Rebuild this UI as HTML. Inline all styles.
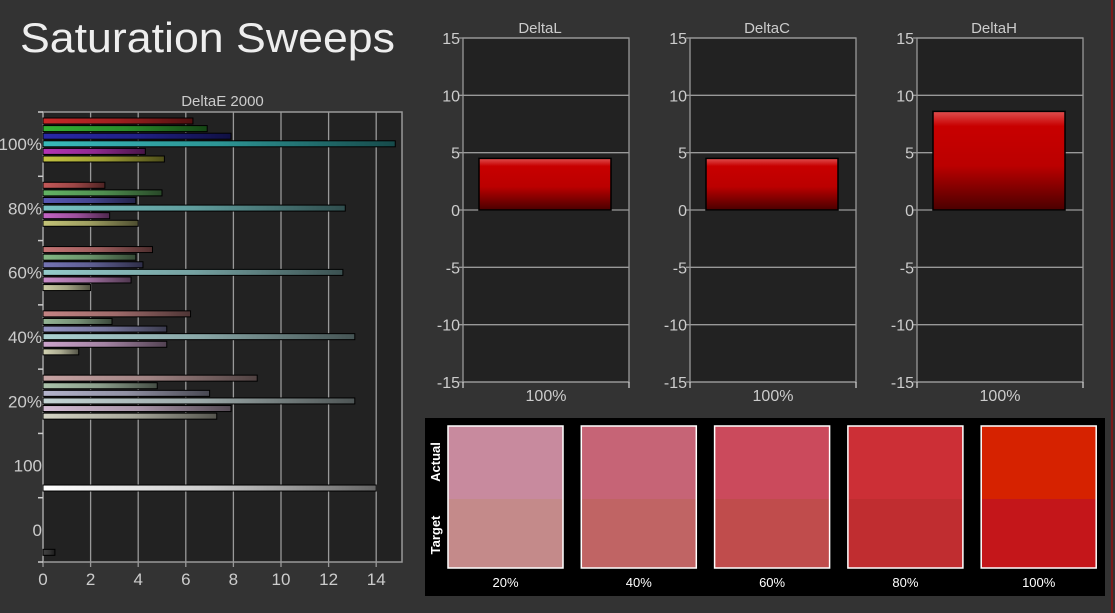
<!DOCTYPE html>
<html><head><meta charset="utf-8">
<style>
html,body{margin:0;padding:0;background:#333;}
svg{display:block;font-family:"Liberation Sans",sans-serif;}
</style></head>
<body>
<svg id="root" width="1115" height="613" viewBox="0 0 1115 613" xmlns="http://www.w3.org/2000/svg">
<defs>
<linearGradient id="redbar" x1="0" y1="0" x2="0" y2="1">
<stop offset="0" stop-color="#e05050"/><stop offset="0.15" stop-color="#c80000"/><stop offset="0.55" stop-color="#bb0000"/><stop offset="1" stop-color="#4a0000"/>
</linearGradient>
</defs>
<rect x="0" y="0" width="1115" height="613" fill="#333"/>
<rect x="1111" y="0" width="2" height="613" fill="#7a1a1a"/>
<text x="20" y="52" font-size="42" fill="#eee" textLength="375" lengthAdjust="spacingAndGlyphs">Saturation Sweeps</text>
<g id="left"></g>
<g id="panels"></g>
<g id="swatches"></g>
</svg>
<script>
const NS="http://www.w3.org/2000/svg";
// ---- DeltaE 2000 data ----
const groupLabels=["100%","80%","60%","40%","20%","100","0"];
const xTicks=[0,2,4,6,8,10,12,14];
const de100=[6.3,6.9,7.9,14.8,4.3,5.1];
const de80=[2.6,5.0,3.9,12.7,2.8,4.0];
const de60=[4.6,3.9,4.2,12.6,3.7,2.0];
const de40=[6.2,2.9,5.2,13.1,5.2,1.5];
const de20=[9.0,4.8,7.0,13.1,7.9,7.3];
const deWhite=[14.0];
const deBlack=[0.5];
// ---- Delta panels data ----
const panelTitles=["DeltaL","DeltaC","DeltaH"];
const panelValues=[4.5,4.5,8.6];
const panelYTicks=[15,10,5,0,-5,-10,-15];
const panelCategory="100%";
// ---- swatch data ----
const swatchLabels=["20%","40%","60%","80%","100%"];
const swatchActual=["#c88a9e","#c66476","#cb4a5c","#cc2f36","#d62200"];
const swatchTarget=["#c48a8a","#c06464","#c04c4c","#c02d30","#c4161a"];

function mk(tag,attrs,parent,txt){const e=document.createElementNS(NS,tag);for(const k in attrs)e.setAttribute(k,attrs[k]);if(txt!==undefined)e.textContent=txt;parent.appendChild(e);return e;}

// ---- left chart ----
const L=document.getElementById('left');
const defs=document.querySelector('defs');
const px0=43,pxR=402,pyT=112,pyB=562,unit=23.8;
const xs=v=>px0+v*unit;
const gH=(pyB-pyT)/groupLabels.length;
const r=mk('rect',{x:px0,y:pyT,width:pxR-px0,height:pyB-pyT,fill:'#222',stroke:'#999','stroke-width':1.5},L);

const t=mk('text',{x:(px0+pxR)/2,y:106,'font-size':15,fill:'#ccc','text-anchor':'middle'},L,'DeltaE 2000');

xTicks.forEach(v=>{
  const g=mk('line',{x1:xs(v),x2:xs(v),y1:pyT,y2:pyB+5,stroke:'#999','stroke-width':1.3},L);
  
  const tl=mk('text',{x:xs(v),y:585,'font-size':17,fill:'#ccc','text-anchor':'middle'},L,String(v));
  
});
for(let i=0;i<=groupLabels.length;i++){
  const y=pyT+i*gH;
  const tk=mk('line',{x1:px0-5,x2:px0,y1:y,y2:y,stroke:'#ccc','stroke-width':1.5},L);
  
}
groupLabels.forEach((lab,i)=>{
  const tl=mk('text',{x:px0-1,y:pyT+i*gH+gH/2+6,'font-size':17,fill:'#ccc','text-anchor':'end'},L,lab);
  
});
const groupColors=[
 ["#c82828","#34b034","#2828a8","#38baba","#b434b4","#c4c440"],
 ["#c45858","#64b464","#5858b4","#78c4c4","#c464c4","#c4c478"],
 ["#c47474","#84b884","#7474b4","#94caca","#c88cc8","#ccccA4"],
 ["#c48484","#94b494","#9494c4","#acd2d2","#cca4cc","#d4d4b4"],
 ["#c8a4a4","#acc4ac","#b4b4cc","#c4d4d4","#d4bcd4","#d4d4c4"],
 ["#ffffff"],["#444444"]];
const series=[de100,de80,de60,de40,de20,deWhite,deBlack];
const names=["red","green","blue","cyan","magenta","yellow"];
let gid=0;
function dark(hex,f){const n=parseInt(hex.slice(1),16);const c=[(n>>16)&255,(n>>8)&255,n&255].map(v=>Math.round(v*f));return 'rgb('+c.join(',')+')';}
series.forEach((vals,gi)=>{
  vals.forEach((v,k)=>{
    const slot=(gi>=5)?6:k;
    const col=groupColors[gi][k];
    const id='g'+(gid++);
    const lg=mk('linearGradient',{id:id,x1:0,y1:0,x2:1,y2:0},defs);
    mk('stop',{offset:0,'stop-color':col},lg);
    mk('stop',{offset:0.5,'stop-color':dark(col,0.8)},lg);
    mk('stop',{offset:1,'stop-color':dark(col,0.4)},lg);
    const y=pyT+gi*gH+8+slot*7.6-2;
    const b=mk('rect',{x:xs(0),y:y,width:Math.max(0,xs(v)-xs(0)),height:6,fill:'url(#'+id+')',stroke:'#000','stroke-width':1},L);
    
    
  });
});

// ---- delta panels ----
const P=document.getElementById('panels');
panelTitles.forEach((title,pi)=>{
  const off=pi*227;
  const x0=463+off,x1=629+off,yT=38,yB=382;
  const ys=v=>yT+(15-v)*(yB-yT)/30;
  const g=mk('g',{},P);
  
  const bg=mk('rect',{x:x0,y:yT,width:x1-x0,height:yB-yT,fill:'#222',stroke:'#999','stroke-width':1.3},g);
  
  const tt=mk('text',{x:(x0+x1)/2-6,y:33,'font-size':15,fill:'#ccc','text-anchor':'middle'},g,title);
  
  panelYTicks.forEach(v=>{
    const gl=mk('line',{x1:x0-4,x2:x1,y1:ys(v),y2:ys(v),stroke:'#999','stroke-width':1.3},g);
    
    const tl=mk('text',{x:x0-3,y:ys(v)+6,'font-size':16,fill:'#ccc','text-anchor':'end'},g,String(v));
    
  });
  [x0,x1].forEach(x=>{const tk=mk('line',{x1:x,x2:x,y1:yB,y2:yB+6,stroke:'#ccc','stroke-width':1.3},g);
    });
  const v=panelValues[pi];
  const b=mk('rect',{x:x0+16,y:Math.min(ys(v),ys(0)),width:132,height:Math.abs(ys(0)-ys(v)),fill:'url(#redbar)',stroke:'#000','stroke-width':1.5},g);
  
  const cl=mk('text',{x:(x0+x1)/2,y:401,'font-size':16,fill:'#ccc','text-anchor':'middle'},g,panelCategory);
  
});

// ---- swatches ----
const S=document.getElementById('swatches');
const sb=mk('rect',{x:425,y:418,width:680,height:178,fill:'#000'},S);

const a=mk('text',{transform:'translate(440,462) rotate(-90)','font-size':13,'font-weight':'bold',fill:'#fff','text-anchor':'middle'},S,'Actual');

const tg=mk('text',{transform:'translate(440,535) rotate(-90)','font-size':13,'font-weight':'bold',fill:'#fff','text-anchor':'middle'},S,'Target');

swatchLabels.forEach((lab,i)=>{
  const x=448+i*133.3,w=115,yT=426,yM=499,yB=568;
  const ra=mk('rect',{x:x,y:yT,width:w,height:yM-yT,fill:swatchActual[i]},S);
  
  const rt=mk('rect',{x:x,y:yM,width:w,height:yB-yM,fill:swatchTarget[i]},S);
  
  const fr=mk('rect',{x:x,y:yT,width:w,height:yB-yT,fill:'none',stroke:'#fff','stroke-width':1.5},S);
  
  const tl=mk('text',{x:x+w/2,y:587,'font-size':13,fill:'#fff','text-anchor':'middle'},S,lab);
  
});
</script>
</body></html>
